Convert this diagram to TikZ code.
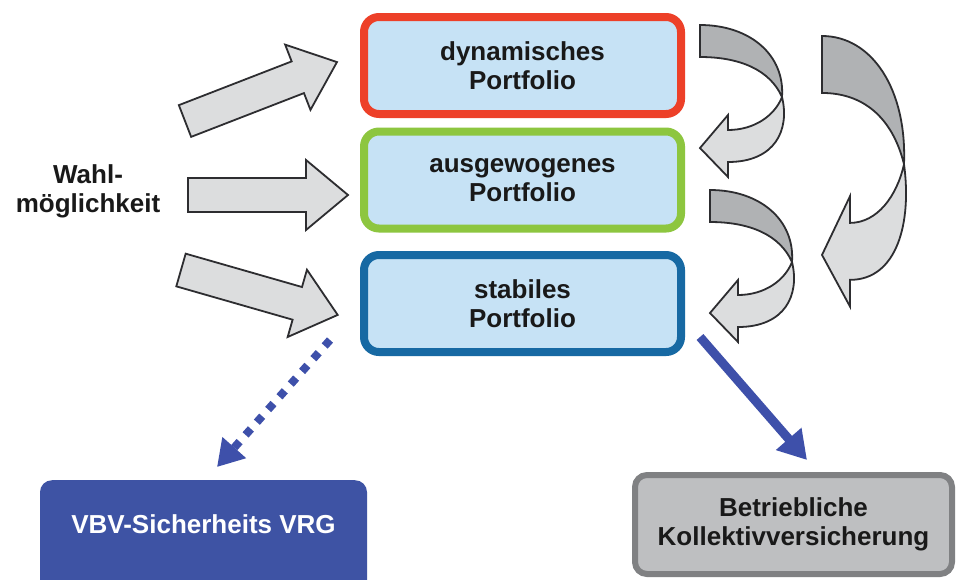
\documentclass[tikz,border=0pt]{standalone}
\usepackage{fontspec}
\setmainfont{Liberation Sans}
\usetikzlibrary{arrows.meta,calc}

\definecolor{dynrot}{RGB}{237,64,40}
\definecolor{ausgruen}{RGB}{141,198,63}
\definecolor{stabblau}{RGB}{23,105,163}
\definecolor{boxfill}{RGB}{198,226,245}
\definecolor{vbvblau}{RGB}{62,83,164}
\definecolor{pfeilblau}{RGB}{62,80,170}
\definecolor{kvgrau}{RGB}{190,191,193}
\definecolor{kvrand}{RGB}{128,129,131}
\definecolor{pfeilhell}{RGB}{220,221,222}
\definecolor{pfeildunkel}{RGB}{176,178,180}
\definecolor{pfeilrand}{RGB}{45,45,48}

\tikzset{
  schrift/.style={font=\fontsize{26}{29}\selectfont\bfseries, text=black!90},
  portfolio/.style={schrift, draw=#1, line width=8pt, fill=boxfill, rounded corners=15pt,
    minimum width=317pt, minimum height=97pt, align=center},
  blockline/.style={draw=pfeilrand, fill=pfeilhell, line width=1.8pt},
  twistline/.style={draw=pfeilrand, line width=1.8pt},
  dotpfeil/.style={pfeilblau, line width=8pt, dash pattern=on 8pt off 9pt,
    -{Triangle[length=26pt,width=30pt]}},
  vollpfeil/.style={pfeilblau, line width=9pt, -{Triangle[length=28pt,width=32pt]}},
  % gerader Blockpfeil, #1 = Laenge
  pics/fatarrow/.style={code={
    \draw[blockline] (0,-17) -- ({#1-42},-17) -- ({#1-42},-35) -- (#1,0)
      -- ({#1-42},35) -- ({#1-42},17) -- (0,17) -- cycle;
  }},
  % gedrehter Bogenpfeil (oben dunkel, unten hell)
  pics/twistarrow/.style={code={
    \filldraw[twistline, fill=pfeildunkel] (0,0) .. controls (50,0) and (85,30) .. (82,72)
      .. controls (70,45) and (40,32) .. (0,32) -- cycle;
    \filldraw[twistline, fill=pfeilhell] (82,72) .. controls (90,105) and (75,137) .. (28,137)
      -- (28,152) -- (0,123) -- (28,90) -- (28,105)
      .. controls (55,105) and (75,90) .. (82,72) -- cycle;
  }}
}

\begin{document}
\begin{tikzpicture}[x=1pt,y=-1pt]

  \clip (0,0) rectangle (966,579);
  \fill[white] (0,0) rectangle (966,579);

  % die drei Portfolios
  \node[portfolio=dynrot] (dyn) at (522.5,65.5) {dynamisches\\Portfolio};
  \node[portfolio=ausgruen] (ausg) at (522.5,180) {ausgewogenes\\Portfolio};
  \node[portfolio=stabblau] (stab) at (522.5,303.5) {stabiles\\Portfolio};

  \node[schrift, align=center] (wahl) at (88,191) {Wahl-\\möglichkeit};

  % Blockpfeile links
  \pic[rotate=21.2] at (185,121) {fatarrow=163};
  \pic at (188,195) {fatarrow=160};
  \pic[rotate=-16] at (181,270) {fatarrow=163};

  % Umschichtung rechts
  \pic at (700,25) {twistarrow};
  \pic at (710,190) {twistarrow};
  \pic[yscale=1.78] at (822,36) {twistarrow};

  % Ziele unten
  \node[schrift, text=white, fill=vbvblau, rounded corners=12pt, anchor=north,
    minimum width=327pt, minimum height=130pt, text height=19pt, text depth=43pt]
    (vbv) at (203.5,480) {VBV-Sicherheits VRG};
  \node[schrift, draw=kvrand, fill=kvgrau, line width=6pt, rounded corners=12pt,
    minimum width=317pt, minimum height=99pt, align=center]
    (kv) at (793.5,524.5) {Betriebliche\\Kollektivversicherung};

  \draw[dotpfeil] ($(stab.south west)+(-30,-16)$) -- ($(vbv.north)+(13.5,-13)$);
  \draw[vollpfeil] ($(stab.south east)+(15,-19)$) -- ($(kv.north)+(13.5,-12)$);

\end{tikzpicture}
\end{document}
